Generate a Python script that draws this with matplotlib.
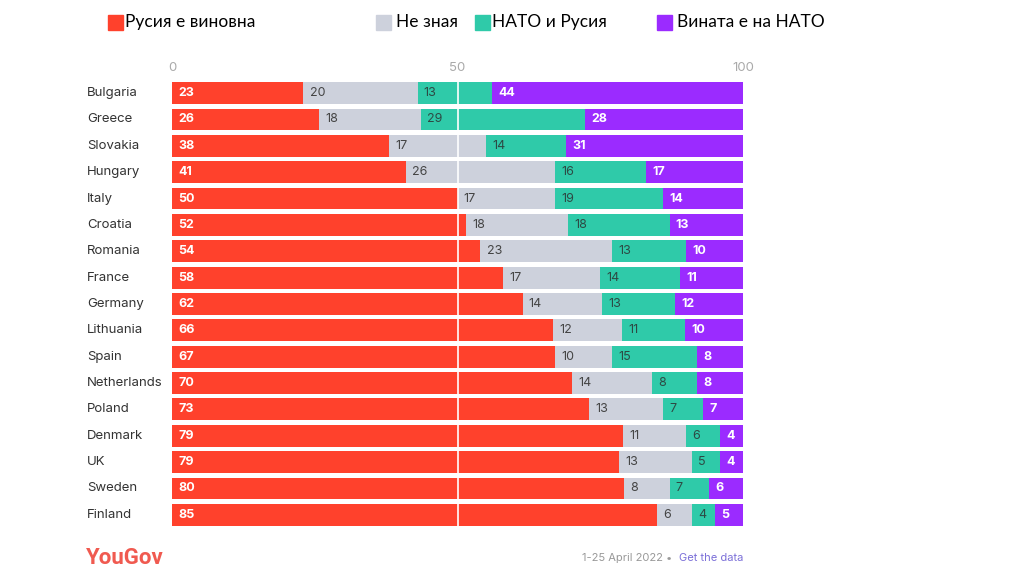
import matplotlib.pyplot as plt
import numpy as np
from matplotlib.patches import Rectangle

# data (percent)
countries = ["Bulgaria", "Greece", "Slovakia", "Hungary", "Italy", "Croatia", "Romania",
             "France", "Germany", "Lithuania", "Spain", "Netherlands", "Poland",
             "Denmark", "UK", "Sweden", "Finland"]
russia = [23, 26, 38, 41, 50, 52, 54, 58, 62, 66, 67, 70, 73, 79, 79, 80, 85]
dont_know = [20, 18, 17, 26, 17, 18, 23, 17, 14, 12, 10, 14, 13, 11, 13, 8, 6]
both = [13, 29, 14, 16, 19, 18, 13, 14, 13, 11, 15, 8, 7, 6, 5, 7, 4]
nato = [44, 28, 31, 17, 14, 13, 10, 11, 12, 10, 8, 8, 7, 4, 4, 6, 5]

series_names = ["Русия е виновна", "Не зная", "НАТО и Русия", "Вината е на НАТО"]
colors = ["#FF412C", "#CDD1DC", "#2FCAA9", "#9B2BFF"]
label_colors = ["white", "#444444", "#2d4a44", "white"]
label_weights = ["bold", "normal", "normal", "bold"]

plt.rcParams['font.family'] = ['Inter', 'DejaVu Sans']

fig = plt.figure(figsize=(10.19, 5.73), dpi=100)
ax = fig.add_axes([0.1688, 0.0785, 0.5604, 0.782])

data = np.array([russia, dont_know, both, nato], dtype=float)
totals = data.sum(axis=0)
scaled = data / totals * 100  # bars always fill to 100

y = np.arange(len(countries))
left = np.zeros(len(countries))
for i in range(4):
    ax.barh(y, scaled[i], left=left, height=0.83, color=colors[i], zorder=2)
    for j in range(len(countries)):
        ax.text(left[j] + 1.1, y[j], str(int(data[i, j])), va="center", ha="left",
                fontsize=9, color=label_colors[i], fontweight=label_weights[i], zorder=4)
    left += scaled[i]

ax.set_xlim(0, 100)
ax.set_ylim(len(countries) - 0.5, -0.5)
ax.set_yticks([])
ax.set_xticks([0, 50, 100])
ax.xaxis.tick_top()
ax.tick_params(axis="x", length=0, labelsize=9.5, labelcolor="#aaaaaa", pad=4)
for s in ax.spines.values():
    s.set_visible(False)
ax.axvline(50, color="white", lw=1.2, zorder=3)

for j, c in enumerate(countries):
    ax.text(-0.149, y[j], c, transform=ax.get_yaxis_transform(), ha="left", va="center",
            fontsize=9.5, color="#333333")

# legend along the top
square_x = [108, 376, 475, 657]
text_x = [125, 396, 492, 677]
for i in range(4):
    fig.patches.append(Rectangle((square_x[i] / 1019, 1 - 30 / 573), 15 / 1019, 15 / 573,
                                 transform=fig.transFigure, color=colors[i]))
    fig.text(text_x[i] / 1019, 1 - 22 / 573, series_names[i], ha="left", va="center",
             fontsize=12.5, family=["Lato", "DejaVu Sans"], color="black")

# footer
fig.text(86 / 1019, 1 - 558 / 573, "YouGov", ha="left", va="center", fontsize=16,
         color="#F05A50", fontweight="bold", family=["Roboto", "DejaVu Sans"])
fig.text(743 / 1019, 1 - 558 / 573, "Get the data", ha="right", va="center",
         fontsize=8, color="#7B6FD8")
fig.text(672 / 1019, 1 - 558 / 573, "1-25 April 2022 \u2022", ha="right", va="center",
         fontsize=8, color="#999999")

fig.savefig("out.png", dpi=100)
